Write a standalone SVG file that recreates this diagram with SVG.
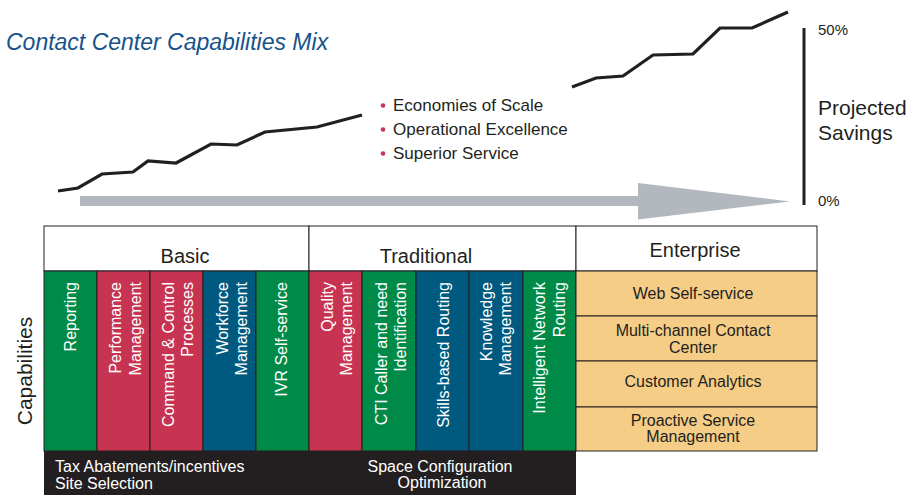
<svg xmlns="http://www.w3.org/2000/svg" width="924" height="495" viewBox="0 0 924 495">
  <style>
    text { font-family: "Liberation Sans", Arial, sans-serif; fill: #231f20; }
    .title { font-size: 23px; font-style: italic; fill: #17528a; }
    .bullet-text { font-size: 17px; }
    .axis-label { font-size: 15px; }
    .axis-title { font-size: 21px; }
    .head { font-size: 20px; text-anchor: middle; }
    .vert { font-size: 16px; fill: #ffffff; text-anchor: end; }
    .ent { font-size: 16px; text-anchor: middle; }
    .bar { font-size: 16px; fill: #ffffff; }
    .cell { stroke: #231f20; stroke-width: 1; }
    .green { fill: #008a47; }
    .red { fill: #c73452; }
    .blue { fill: #005a80; }
    .orange { fill: #f5cd86; }
    .trend { fill: none; stroke: #231f20; stroke-width: 3.2; stroke-linejoin: miter; }
  </style>

  <rect width="924" height="495" fill="#ffffff"/>

  <!-- Title -->
  <text class="title" x="6" y="50">Contact Center Capabilities Mix</text>

  <!-- Savings trend -->
  <g id="trend">
    <polyline class="trend" points="58,191 78,188 102,174 133,172 148,161 176,163 211,144 237,145 265,132 317,127 362,115"/>
    <polyline class="trend" points="572,87 596,78 623,76 653,55 693,54 720,28 752,28 788,12"/>
  </g>

  <!-- Benefit bullets -->
  <g id="benefits">
    <circle cx="383" cy="105.5" r="2.3" fill="#c73452"/>
    <circle cx="383" cy="129.5" r="2.3" fill="#c73452"/>
    <circle cx="383" cy="153.5" r="2.3" fill="#c73452"/>
    <text class="bullet-text" x="393" y="111">Economies of Scale</text>
    <text class="bullet-text" x="393" y="135">Operational Excellence</text>
    <text class="bullet-text" x="393" y="159">Superior Service</text>
  </g>

  <!-- Progress arrow -->
  <g id="progress-arrow">
    <rect x="80" y="196" width="560" height="10" fill="#b3b8be"/>
    <polygon points="638,183 790,201.5 638,219.5" fill="#b3b8be"/>
  </g>

  <!-- Savings axis -->
  <g id="savings-axis">
    <line x1="804" y1="28" x2="804" y2="205" stroke="#231f20" stroke-width="3"/>
    <text class="axis-label" x="818" y="35">50%</text>
    <text class="axis-label" x="818" y="206">0%</text>
    <text class="axis-title" x="818" y="115">Projected</text>
    <text class="axis-title" x="818" y="140">Savings</text>
  </g>

  <!-- Row label -->
  <text x="32" y="371" font-size="21" text-anchor="middle" transform="rotate(-90 32 371)">Capabilities</text>

  <!-- Tier headers -->
  <g id="header-basic">
    <rect class="cell" x="44" y="226" width="265" height="45" fill="#ffffff"/>
    <text class="head" x="185" y="263">Basic</text>
  </g>
  <g id="header-traditional">
    <rect class="cell" x="309" y="226" width="267" height="45" fill="#ffffff"/>
    <text class="head" x="426" y="263" font-size="21">Traditional</text>
  </g>
  <g id="header-enterprise">
    <rect class="cell" x="576" y="226" width="241" height="45" fill="#ffffff"/>
    <text class="head" x="695" y="257" font-size="21">Enterprise</text>
  </g>

  <!-- Basic capabilities -->
  <g id="cap-reporting">
    <rect class="cell green" x="44" y="271" width="53" height="180"/>
    <text class="vert" x="76" y="282" transform="rotate(-90 76 282)">Reporting</text>
  </g>
  <g id="cap-performance">
    <rect class="cell red" x="97" y="271" width="53" height="180"/>
    <text class="vert" x="121" y="282" transform="rotate(-90 121 282)">Performance</text>
    <text class="vert" x="141" y="282" transform="rotate(-90 141 282)">Management</text>
  </g>
  <g id="cap-command">
    <rect class="cell red" x="150" y="271" width="53" height="180"/>
    <text class="vert" x="174" y="282" transform="rotate(-90 174 282)">Command &amp; Control</text>
    <text class="vert" x="193" y="282" transform="rotate(-90 193 282)">Processes</text>
  </g>
  <g id="cap-workforce">
    <rect class="cell blue" x="203" y="271" width="53" height="180"/>
    <text class="vert" x="228" y="282" transform="rotate(-90 228 282)">Workforce</text>
    <text class="vert" x="247" y="282" transform="rotate(-90 247 282)">Management</text>
  </g>
  <g id="cap-ivr">
    <rect class="cell green" x="256" y="271" width="53" height="180"/>
    <text class="vert" x="287" y="282" transform="rotate(-90 287 282)">IVR Self-service</text>
  </g>

  <!-- Traditional capabilities -->
  <g id="cap-quality">
    <rect class="cell red" x="309" y="271" width="53" height="180"/>
    <text class="vert" x="333" y="282" transform="rotate(-90 333 282)">Quality</text>
    <text class="vert" x="352" y="282" transform="rotate(-90 352 282)">Management</text>
  </g>
  <g id="cap-cti">
    <rect class="cell green" x="362" y="271" width="54" height="180"/>
    <text class="vert" x="387" y="282" transform="rotate(-90 387 282)">CTI Caller and need</text>
    <text class="vert" x="406" y="282" transform="rotate(-90 406 282)">Identification</text>
  </g>
  <g id="cap-skills">
    <rect class="cell blue" x="416" y="271" width="53" height="180"/>
    <text class="vert" x="449" y="282" transform="rotate(-90 449 282)">Skills-based Routing</text>
  </g>
  <g id="cap-knowledge">
    <rect class="cell blue" x="469" y="271" width="54" height="180"/>
    <text class="vert" x="492" y="282" transform="rotate(-90 492 282)">Knowledge</text>
    <text class="vert" x="511" y="282" transform="rotate(-90 511 282)">Management</text>
  </g>
  <g id="cap-network">
    <rect class="cell green" x="523" y="271" width="53" height="180"/>
    <text class="vert" x="545" y="282" transform="rotate(-90 545 282)">Intelligent Network</text>
    <text class="vert" x="565" y="282" transform="rotate(-90 565 282)">Routing</text>
  </g>

  <!-- Enterprise capabilities -->
  <g id="cap-web">
    <rect class="cell orange" x="576" y="271" width="241" height="45"/>
    <text class="ent" x="693" y="299">Web Self-service</text>
  </g>
  <g id="cap-multichannel">
    <rect class="cell orange" x="576" y="316" width="241" height="45"/>
    <text class="ent" x="693" y="336">Multi-channel Contact</text>
    <text class="ent" x="693" y="353">Center</text>
  </g>
  <g id="cap-analytics">
    <rect class="cell orange" x="576" y="361" width="241" height="46"/>
    <text class="ent" x="693" y="387">Customer Analytics</text>
  </g>
  <g id="cap-proactive">
    <rect class="cell orange" x="576" y="407" width="241" height="44"/>
    <text class="ent" x="693" y="426">Proactive Service</text>
    <text class="ent" x="693" y="442">Management</text>
  </g>

  <!-- Site factors bar -->
  <g id="site-factors">
    <rect x="44" y="451" width="532" height="44" fill="#231f20"/>
    <text class="bar" x="55" y="472">Tax Abatements/incentives</text>
    <text class="bar" x="55" y="489">Site Selection</text>
    <text class="bar" x="440" y="472" text-anchor="middle">Space Configuration</text>
    <text class="bar" x="442" y="488" text-anchor="middle">Optimization</text>
  </g>
</svg>
